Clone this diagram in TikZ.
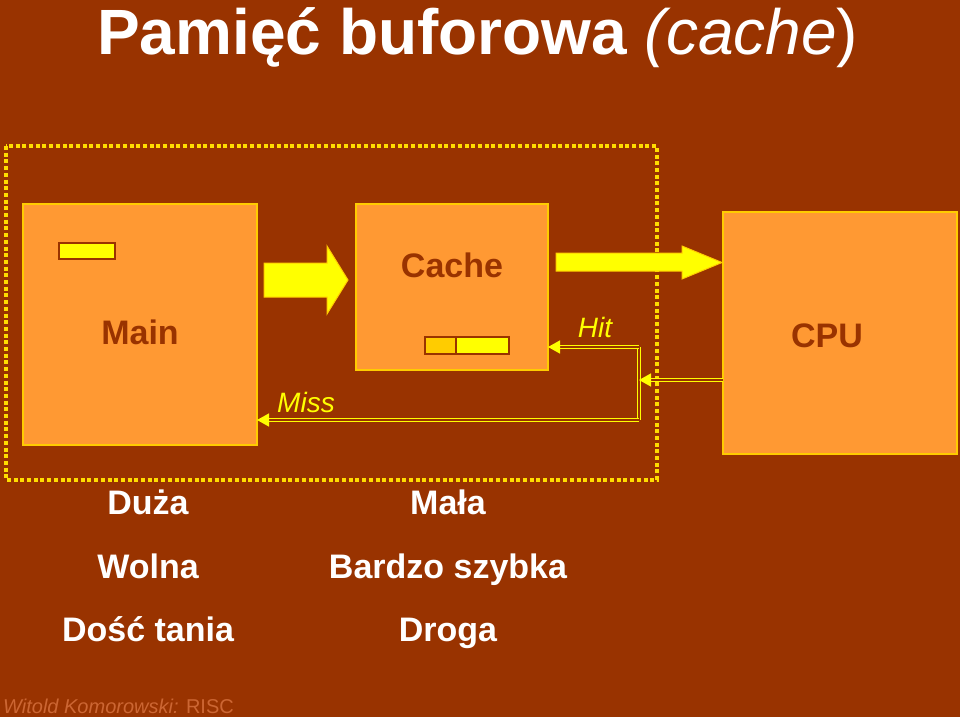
\documentclass[tikz,border=0pt]{standalone}
\usepackage{fontspec}
\setmainfont{Liberation Sans}
\usetikzlibrary{arrows.meta}
\definecolor{bg}{HTML}{993300}
\definecolor{boxfill}{HTML}{FF9933}
\definecolor{boxline}{HTML}{FFCC00}
\definecolor{yel}{HTML}{FFFF00}
\definecolor{dotc}{HTML}{FFDD00}
\definecolor{amber}{HTML}{FFCC00}
\definecolor{footc}{HTML}{CC6633}
\tikzset{
  unit/.style={draw=boxline, fill=boxfill, line width=1.5pt},
  slot/.style={draw=bg, line width=1.5pt},
  boxlabel/.style={text=bg, font=\fontsize{34}{36}\selectfont\bfseries, anchor=base, inner sep=0pt},
  ptext/.style={text=white, font=\fontsize{34}{36}\selectfont\bfseries, anchor=base, inner sep=0pt},
  flowlabel/.style={text=yel, font=\fontsize{28}{30}\selectfont\itshape, anchor=base, inner sep=0pt},
  bigarrow/.style={fill=yel, draw=amber, line width=1pt},
  dbl/.style={draw=yel, double=bg, line width=1.4pt, double distance=2pt},
  tipd/.style={-{Triangle[length=12pt,width=13pt]}},
}
\begin{document}
\begin{tikzpicture}[x=1pt,y=-1pt]
\fill[bg] (0,0) rectangle (960,717);
\useasboundingbox (0,0) rectangle (960,717);

% title
\node[text=white, anchor=base west, inner sep=0pt] (title) at (97,55)
  {\fontsize{64}{66}\selectfont\bfseries Pamięć buforowa \mdseries\itshape (cache\upshape)};

% dotted frame
\draw[dotc, line width=4pt, dash pattern=on 4pt off 2.7pt] (6,146) rectangle (657,480);

% boxes
\draw[unit] (23,204) rectangle (257,445);
\draw[unit] (356,204) rectangle (548,370);
\draw[unit] (723,212) rectangle (957,454);
\coordinate (mainE) at (257,420);
\coordinate (cacheE) at (548,347);
\coordinate (cpuW) at (723,380);

\node[boxlabel] (main) at (140,344) {Main};
\node[boxlabel] (cache) at (452,277) {Cache};
\node[boxlabel] (cpu) at (827,347) {CPU};

% small slots
\filldraw[slot, fill=yel] (59,243) rectangle (115,259);
\filldraw[slot, fill=amber] (425,337) rectangle (456,354);
\filldraw[slot, fill=yel] (456,337) rectangle (509,354);

% block arrows
\filldraw[bigarrow] (264,263) -- (327,263) -- (327,246) -- (348,280) -- (327,314) -- (327,297) -- (264,297) -- cycle;
\filldraw[bigarrow] (556,253) -- (682,253) -- (682,246) -- (722,262.5) -- (682,279) -- (682,271) -- (556,271) -- cycle;

% connectors
\coordinate (jt) at (639,347);
\coordinate (jm) at (639,380);
\coordinate (jb) at (639,420);
\draw[dbl] (jt) -- (jb);
\draw[dbl, tipd] (jt) -- (cacheE);
\draw[dbl, tipd] (jb) -- (mainE);
\draw[dbl, tipd] (cpuW) -- (jm);

\node[flowlabel] (hit) at (595,337) {Hit};
\node[flowlabel] (miss) at (306,412) {Miss};

% properties
\node[ptext] (p1) at (148,514) {Duża};
\node[ptext] (p2) at (148,578) {Wolna};
\node[ptext] (p3) at (148,641) {Dość tania};
\node[ptext] (q1) at (448,514) {Mała};
\node[ptext] (q2) at (448,578) {Bardzo szybka};
\node[ptext] (q3) at (448,641) {Droga};

% footer
\node[text=footc, anchor=base west, inner sep=0pt, font=\fontsize{20}{22}\selectfont] (foot) at (3,713)
  {\itshape Witold Komorowski:\upshape{} RISC};
\end{tikzpicture}
\end{document}
